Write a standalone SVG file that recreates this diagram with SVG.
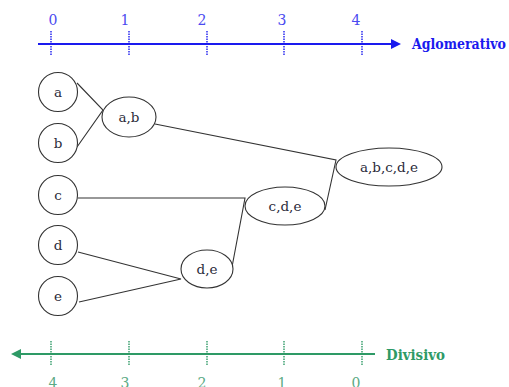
<svg xmlns="http://www.w3.org/2000/svg" width="509" height="387" viewBox="0 0 509 387">
  <style>
    .node { fill: #ffffff; stroke: #333333; stroke-width: 1.1; }
    .lbl { font-size: 13.5px; fill: #2b2b3a; text-anchor: middle; }
    .edge { fill: none; stroke: #333333; stroke-width: 1.1; }
    .axis-agl { stroke: #1a1aee; stroke-width: 2; fill: none; }
    .tick-agl { stroke: #1a1aee; stroke-width: 1.4; stroke-dasharray: 1.5 1; }
    .num-agl { font-size: 14px; fill: #4a4af0; text-anchor: middle; }
    .axis-div { stroke: #2e9a66; stroke-width: 2; fill: none; }
    .tick-div { stroke: #2e9a66; stroke-width: 1.4; stroke-dasharray: 1.5 1; }
    .num-div { font-size: 14px; fill: #5aaa84; text-anchor: middle; }
    .title { font-size: 14px; font-weight: bold; }
  </style>

  <g font-family="DejaVu Serif, serif">
  <!-- agglomerative scale -->
  <g id="axis-aglomerativo">
    <line class="axis-agl" x1="38" y1="44" x2="392" y2="44"/>
    <polygon points="401,44 391,39 391,49" fill="#1a1aee"/>
    <line class="tick-agl" x1="51" y1="31" x2="51" y2="56"/>
    <line class="tick-agl" x1="129" y1="31" x2="129" y2="56"/>
    <line class="tick-agl" x1="207" y1="31" x2="207" y2="56"/>
    <line class="tick-agl" x1="284" y1="31" x2="284" y2="56"/>
    <line class="tick-agl" x1="362" y1="31" x2="362" y2="56"/>
    <text class="num-agl" x="53" y="25">0</text>
    <text class="num-agl" x="125" y="25">1</text>
    <text class="num-agl" x="202" y="25">2</text>
    <text class="num-agl" x="282" y="25">3</text>
    <text class="num-agl" x="356" y="25">4</text>
    <text class="title" x="412" y="49" fill="#1a1aee" textLength="94" lengthAdjust="spacingAndGlyphs">Aglomerativo</text>
  </g>

  <!-- divisive scale -->
  <g id="axis-divisivo">
    <line class="axis-div" x1="20" y1="354" x2="375" y2="354"/>
    <polygon points="11,354 21,349 21,359" fill="#2e9a66"/>
    <line class="tick-div" x1="51" y1="341" x2="51" y2="366"/>
    <line class="tick-div" x1="129" y1="341" x2="129" y2="366"/>
    <line class="tick-div" x1="207" y1="341" x2="207" y2="366"/>
    <line class="tick-div" x1="284" y1="341" x2="284" y2="366"/>
    <line class="tick-div" x1="362" y1="341" x2="362" y2="366"/>
    <text class="num-div" x="53" y="388">4</text>
    <text class="num-div" x="125" y="388">3</text>
    <text class="num-div" x="202" y="388">2</text>
    <text class="num-div" x="282" y="388">1</text>
    <text class="num-div" x="356" y="388">0</text>
    <text class="title" x="386" y="360" fill="#2e9a66" textLength="59" lengthAdjust="spacingAndGlyphs">Divisivo</text>
  </g>

  <!-- connectors -->
  <g id="connectors">
    <polyline class="edge" points="77,83 103,110 77,147"/>
    <polyline class="edge" points="155,124 336,160 325,210"/>
    <polyline class="edge" points="78,198 245,198 232,267"/>
    <polyline class="edge" points="78,252 181,279 79,302"/>
  </g>

  <!-- nodes -->
  <g id="node-a">
    <circle class="node" cx="58" cy="92" r="19.5"/>
    <text class="lbl" x="58" y="97">a</text>
  </g>
  <g id="node-b">
    <circle class="node" cx="58" cy="143" r="19.5"/>
    <text class="lbl" x="58" y="148">b</text>
  </g>
  <g id="node-c">
    <circle class="node" cx="58" cy="195" r="19.5"/>
    <text class="lbl" x="58" y="200">c</text>
  </g>
  <g id="node-d">
    <circle class="node" cx="58" cy="245" r="19.5"/>
    <text class="lbl" x="58" y="250">d</text>
  </g>
  <g id="node-e">
    <circle class="node" cx="58" cy="296" r="19.5"/>
    <text class="lbl" x="58" y="301">e</text>
  </g>
  <g id="node-ab">
    <ellipse class="node" cx="129" cy="117" rx="27" ry="20"/>
    <text class="lbl" x="129" y="122">a,b</text>
  </g>
  <g id="node-de">
    <ellipse class="node" cx="207" cy="269" rx="26" ry="19"/>
    <text class="lbl" x="207" y="274">d,e</text>
  </g>
  <g id="node-cde">
    <ellipse class="node" cx="285" cy="206" rx="40" ry="19"/>
    <text class="lbl" x="285" y="211">c,d,e</text>
  </g>
  <g id="node-abcde">
    <ellipse class="node" cx="389" cy="167" rx="53" ry="19"/>
    <text class="lbl" x="389" y="172">a,b,c,d,e</text>
  </g>
  </g>
</svg>
